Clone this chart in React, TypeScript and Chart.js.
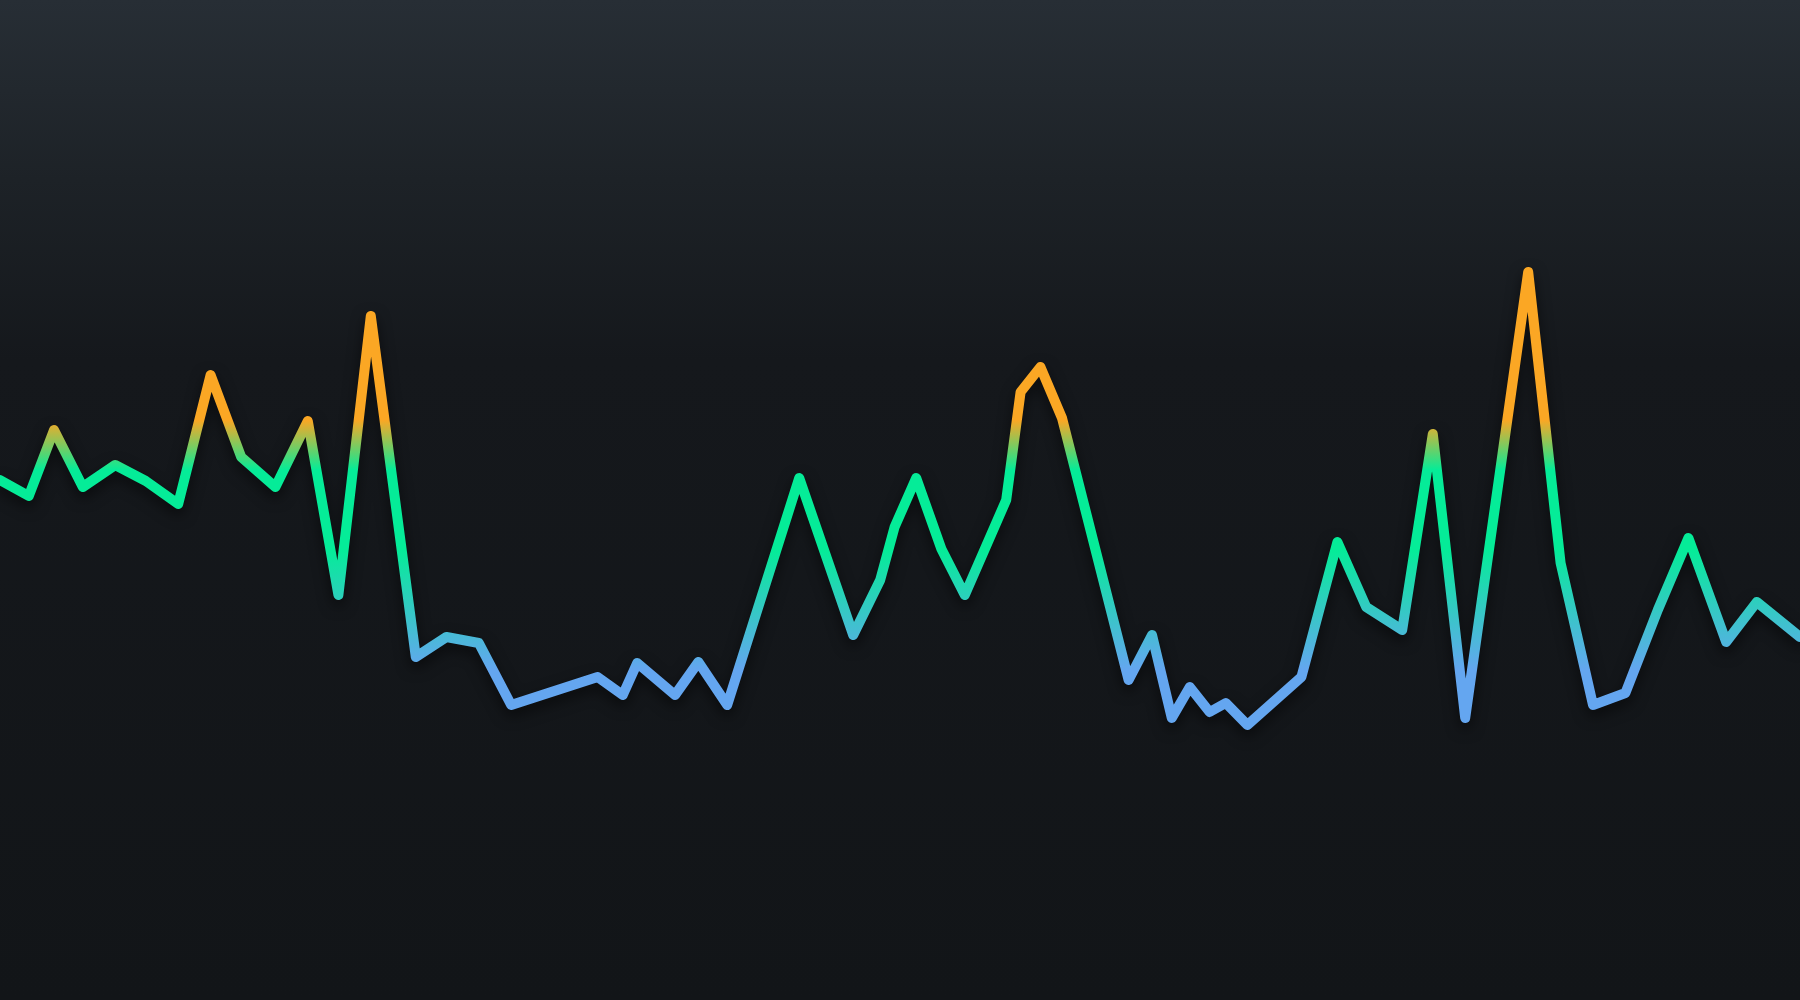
import React, { useEffect, useRef } from "react";
import { Chart, registerables } from "chart.js";

Chart.register(...registerables);

// Sample positions (time axis, 0–100) and values
const times = [
  0, 1.6, 3.0, 4.6, 6.4, 8.1, 9.9, 11.7, 13.4, 15.3, 17.1, 18.8, 20.6, 23.1, 24.8,
  26.6, 28.4, 33.2, 34.6, 35.4, 37.5, 38.8, 40.4, 44.4, 47.4, 48.9, 49.7, 50.9,
  52.3, 53.6, 55.9, 56.7, 57.8, 59.0, 62.7, 64.0, 65.1, 66.1, 67.2, 68.1, 69.3,
  72.3, 74.3, 75.9, 77.9, 79.6, 81.4, 84.9, 86.7, 88.5, 90.3, 92.1, 93.8, 95.9,
  97.6, 100,
];
const values = [
  52.0, 50.4, 57.0, 51.3, 53.5, 51.9, 49.6, 62.5, 54.3, 51.3, 57.9, 40.5, 68.4,
  34.3, 36.3, 35.7, 29.5, 32.3, 30.5, 33.7, 30.5, 33.8, 29.5, 52.2, 36.5, 42.0,
  47.3, 52.2, 45.1, 40.5, 50.0, 60.8, 63.3, 58.2, 32.0, 36.5, 28.2, 31.3, 28.8,
  29.7, 27.5, 32.3, 45.8, 39.3, 37.0, 56.6, 28.2, 72.8, 43.7, 29.5, 30.7, 39.0,
  46.2, 35.8, 39.8, 36.3,
];

// Colour bands by value
const bandValues = [58, 53, 45, 33];
const bandColors = ["#fba724", "#05ec98", "#05ec98", "#64a6f0"];

const shadowPlugin = {
  id: "lineShadow",
  beforeDatasetDraw(chart: any) {
    const c = chart.ctx;
    c.save();
    c.shadowColor = "rgba(0,0,0,0.55)";
    c.shadowBlur = 14;
    c.shadowOffsetX = 0;
    c.shadowOffsetY = 6;
  },
  afterDatasetDraw(chart: any) {
    chart.ctx.restore();
  },
};

export default function App() {
  const ref = useRef<HTMLCanvasElement | null>(null);

  useEffect(() => {
    document.body.style.margin = "0";
    const canvas = ref.current;
    if (!canvas) return;
    const data = times.map((t, i) => ({ x: t, y: values[i] }));
    const chart = new Chart(canvas, {
      type: "line",
      data: {
        datasets: [
          {
            data,
            borderWidth: 10,
            borderJoinStyle: "round",
            borderCapStyle: "round",
            pointRadius: 0,
            pointHoverRadius: 0,
            tension: 0,
            fill: false,
            borderColor: (ctx: any) => {
              const ch = ctx.chart;
              const { chartArea, scales } = ch;
              if (!chartArea || !scales.y) return bandColors[1];
              const y = scales.y;
              const top = y.getPixelForValue(bandValues[0]);
              const bottom = y.getPixelForValue(bandValues[bandValues.length - 1]);
              const g = ch.ctx.createLinearGradient(0, top, 0, bottom);
              bandValues.forEach((v, i) => {
                const p = (y.getPixelForValue(v) - top) / (bottom - top);
                g.addColorStop(Math.min(1, Math.max(0, p)), bandColors[i]);
              });
              return g;
            },
          },
        ],
      },
      options: {
        animation: false,
        responsive: false,
        layout: { padding: 0 },
        plugins: {
          legend: { display: false },
          tooltip: { enabled: false },
        },
        scales: {
          x: { type: "linear", min: 0, max: 100, display: false },
          y: { type: "linear", min: 0, max: 100, display: false },
        },
      },
      plugins: [shadowPlugin],
    });
    return () => chart.destroy();
  }, []);

  return (
    <div
      style={{
        position: "fixed",
        left: 0,
        top: 0,
        width: 1800,
        height: 1000,
        background:
          "linear-gradient(180deg, #272e35 0%, #1d2227 18%, #15181c 36%, #121518 100%)",
      }}
    >
      <canvas ref={ref} width={1800} height={1000} style={{ display: "block" }} />
    </div>
  );
}
